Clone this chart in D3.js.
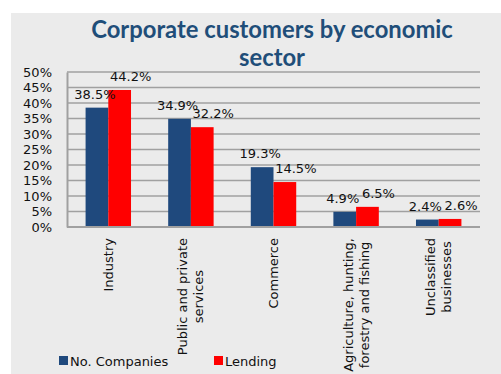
<!DOCTYPE html>
<html>
<head>
<meta charset="utf-8">
<script src="https://cdn.jsdelivr.net/npm/d3@7"></script>
<style>
  html, body { margin: 0; padding: 0; background: #ffffff; }
  svg { display: block; }
</style>
</head>
<body>
<svg id="chart" width="501" height="374"></svg>
<script>
// Share of corporate customers and of lending, by economic sector
const categories = [
  ["Industry"],
  ["Public and private", "services"],
  ["Commerce"],
  ["Agriculture, hunting,", "forestry and fishing"],
  ["Unclassified", "businesses"]
];
const companies = [38.5, 34.9, 19.3, 4.9, 2.4];
const lending = [44.2, 32.2, 14.5, 6.5, 2.6];
const seriesNames = ["No. Companies", "Lending"];
const yTicks = [0, 5, 10, 15, 20, 25, 30, 35, 40, 45, 50];

const colors = ["#1f497d", "#ff0000"];
const font = "'DejaVu Sans', Verdana, sans-serif";

const svg = d3.select("#chart");

// panel background
svg.append("rect")
  .attr("x", 11).attr("y", 13)
  .attr("width", 490).attr("height", 361)
  .attr("fill", "#ebebeb");

// title
const title = svg.append("text")
  .attr("text-anchor", "middle")
  .attr("fill", "#1f4e79")
  .attr("font-family", "Lato, 'Open Sans', sans-serif")
  .attr("font-weight", "bold")
  .attr("font-size", 23.8);
title.append("tspan").attr("x", 272).attr("y", 38).text("Corporate customers by economic");
title.append("tspan").attr("x", 272).attr("y", 66).text("sector");

const plot = { left: 67, right: 480, top: 72, bottom: 227 };

const x0 = d3.scaleBand()
  .domain(d3.range(categories.length))
  .range([plot.left, plot.right])
  .paddingInner(0.45)
  .paddingOuter(0.225);

const x1 = d3.scaleBand()
  .domain([0, 1])
  .range([0, x0.bandwidth()]);

const y = d3.scaleLinear()
  .domain([0, 50])
  .range([plot.bottom, plot.top]);

// horizontal gridlines
svg.append("g")
  .selectAll("line")
  .data(yTicks.filter(t => t > 0))
  .join("line")
  .attr("x1", plot.left).attr("x2", plot.right)
  .attr("y1", d => y(d)).attr("y2", d => y(d))
  .attr("stroke", "#a0a0a0")
  .attr("stroke-width", 1.6);

// y axis
const yAxis = svg.append("g")
  .attr("transform", `translate(${plot.left},0)`)
  .call(d3.axisLeft(y).tickValues(yTicks).tickSize(0).tickPadding(15).tickFormat(d => d + "%"));
yAxis.select(".domain").attr("stroke", "#a0a0a0").attr("stroke-width", 2);
yAxis.selectAll("text")
  .attr("font-family", font)
  .attr("font-size", 13)
  .attr("fill", "#111");

// bars
const series = [companies, lending];
const groups = svg.append("g")
  .selectAll("g")
  .data(series)
  .join("g")
  .attr("fill", (d, i) => colors[i]);

groups.each(function(vals, si) {
  d3.select(this).selectAll("rect")
    .data(vals)
    .join("rect")
    .attr("x", (d, i) => x0(i) + x1(si))
    .attr("y", d => y(d))
    .attr("width", x1.bandwidth())
    .attr("height", d => y(0) - y(d));
});

// x axis baseline
svg.append("line")
  .attr("x1", plot.left).attr("x2", plot.right)
  .attr("y1", plot.bottom).attr("y2", plot.bottom)
  .attr("stroke", "#a0a0a0")
  .attr("stroke-width", 2);

// value labels
const labelNudge = [-2, 11];
series.forEach((vals, si) => {
  svg.append("g")
    .selectAll("text")
    .data(vals)
    .join("text")
    .attr("x", (d, i) => x0(i) + x1(si) + x1.bandwidth() / 2 + labelNudge[si])
    .attr("y", d => y(d) - 9)
    .attr("text-anchor", "middle")
    .attr("font-family", font)
    .attr("font-size", 13)
    .attr("fill", "#111")
    .text(d => d.toFixed(1) + "%");
});

// rotated category labels
const lineH = 16;
categories.forEach((lines, i) => {
  const cx = x0(i) + x0.bandwidth() / 2;
  const g = svg.append("g").attr("transform", `translate(${cx},238) rotate(-90)`);
  const t = g.append("text")
    .attr("text-anchor", "middle")
    .attr("font-family", font)
    .attr("font-size", 13)
    .attr("fill", "#111");
  const spans = lines.map((s, k) => t.append("tspan")
    .attr("y", (k - (lines.length - 1) / 2) * lineH + 4.5)
    .text(s));
  const maxW = d3.max(spans, s => s.node().getComputedTextLength());
  spans.forEach(s => s.attr("x", -maxW / 2));
});

// legend
const legendX = [59, 214];
seriesNames.forEach((name, i) => {
  svg.append("rect")
    .attr("x", legendX[i]).attr("y", 356)
    .attr("width", 9).attr("height", 9)
    .attr("fill", colors[i]);
  svg.append("text")
    .attr("x", legendX[i] + 11).attr("y", 366)
    .attr("font-family", font)
    .attr("font-size", 13)
    .attr("fill", "#111")
    .text(name);
});
</script>
</body>
</html>
